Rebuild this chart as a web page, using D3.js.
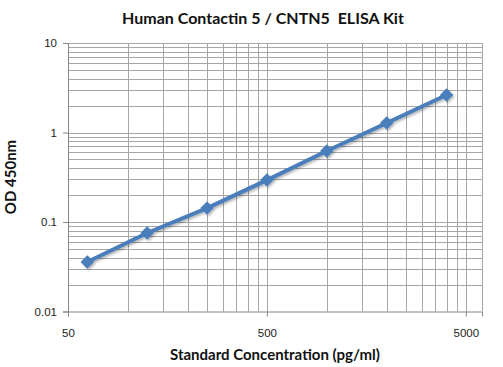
<!DOCTYPE html>
<html>
<head>
<meta charset="utf-8">
<script src="https://cdn.jsdelivr.net/npm/d3@7"></script>
<style>
  body { margin: 0; background: #fff; }
  text { font-family: "Liberation Sans", Arial, sans-serif; }
</style>
</head>
<body>
<div id="chart"></div>
<script>
// data
const concentrations = [62.5, 125, 250, 500, 1000, 2000, 4000];
const odValues = [0.0357, 0.0754, 0.143, 0.294, 0.621, 1.277, 2.62];
const xTicks = [50, 500, 5000];
const yTicks = [0.01, 0.1, 1, 10];

const width = 503, height = 367;
const margin = {top: 43, right: 21, bottom: 55.5, left: 68};
const innerW = width - margin.left - margin.right;
const innerH = height - margin.top - margin.bottom;

const svg = d3.select("#chart")
    .append("svg")
    .attr("width", width)
    .attr("height", height);

const g = svg.append("g")
    .attr("transform", `translate(${margin.left}, ${margin.top})`);

const x = d3.scaleLog().domain([50, 6030]).range([0, innerW]);
const y = d3.scaleLog().domain([0.01, 10]).range([innerH, 0]);

// minor gridlines: k * major for k = 2..9
let xGrid = [];
[50, 500].forEach(m => { for (let k = 2; k <= 10; k++) xGrid.push(m * k); });
let yGrid = [];
[0.01, 0.1, 1].forEach(m => { for (let k = 2; k <= 10; k++) yGrid.push(m * k); });

g.selectAll(".vgrid").data(xGrid).enter()
    .append("line")
    .attr("x1", d => Math.round(x(d)) + 0.5)
    .attr("x2", d => Math.round(x(d)) + 0.5)
    .attr("y1", 0).attr("y2", innerH)
    .attr("stroke", "#a6a6a6").attr("stroke-width", 1);

g.selectAll(".hgrid").data(yGrid).enter()
    .append("line")
    .attr("y1", d => Math.round(y(d)) + 0.5)
    .attr("y2", d => Math.round(y(d)) + 0.5)
    .attr("x1", 0).attr("x2", innerW)
    .attr("stroke", "#a6a6a6").attr("stroke-width", 1);

// right border
g.append("line")
    .attr("x1", innerW + 0.5).attr("x2", innerW + 0.5)
    .attr("y1", 0).attr("y2", innerH)
    .attr("stroke", "#a6a6a6");

// axes
const xAxis = g.append("g")
    .attr("transform", `translate(0, ${innerH})`)
    .call(d3.axisBottom(x).tickValues(xTicks).tickFormat(d3.format("d")).tickSize(5).tickPadding(12));
const yAxis = g.append("g")
    .call(d3.axisLeft(y).tickValues(yTicks).tickFormat(d => d >= 1 ? d3.format("d")(d) : d3.format(".2~f")(d)).tickSize(5).tickPadding(6));

[xAxis, yAxis].forEach(a => {
    a.select(".domain").attr("stroke", "#868686");
    a.selectAll(".tick line").attr("stroke", "#868686");
    a.selectAll(".tick text")
        .attr("fill", "#222")
        .style("font-size", "11.5px")
        .style("font-family", "'Liberation Sans', Arial, sans-serif");
});

// shadow filter for the series
const defs = svg.append("defs");
const filt = defs.append("filter").attr("id", "shadow")
    .attr("x", "-20%").attr("y", "-20%").attr("width", "140%").attr("height", "140%");
filt.append("feDropShadow")
    .attr("dx", 1.5).attr("dy", 1.5).attr("stdDeviation", 1.2)
    .attr("flood-color", "#000").attr("flood-opacity", 0.3);

const points = concentrations.map((c, i) => ({c: c, od: odValues[i]}));

const line = d3.line()
    .x(d => x(d.c))
    .y(d => y(d.od));

const series = g.append("g").attr("filter", "url(#shadow)");

series.append("path")
    .datum(points)
    .attr("d", line)
    .attr("fill", "none")
    .attr("stroke", "#4a7ebb")
    .attr("stroke-width", 4)
    .attr("stroke-linejoin", "round");

series.selectAll(".pt").data(points).enter()
    .append("path")
    .attr("transform", d => `translate(${x(d.c)}, ${y(d.od)})`)
    .attr("d", d3.symbol().type(d3.symbolDiamond2).size(115))
    .attr("fill", "#4a7ebb");

// titles
svg.append("text")
    .attr("x", 263).attr("y", 24)
    .attr("text-anchor", "middle")
    .style("font-family", "Lato, 'Open Sans', sans-serif")
    .style("font-weight", "bold")
    .style("font-size", "16px")
    .attr("fill", "#111")
    .style("white-space", "pre")
    .text("Human Contactin 5 / CNTN5  ELISA Kit");

svg.append("text")
    .attr("x", 275).attr("y", 360)
    .attr("text-anchor", "middle")
    .style("font-family", "Lato, 'Open Sans', sans-serif")
    .style("font-weight", "bold")
    .style("font-size", "15px")
    .attr("fill", "#111")
    .text("Standard Concentration (pg/ml)");

svg.append("text")
    .attr("transform", `translate(16, 177) rotate(-90)`)
    .attr("text-anchor", "middle")
    .style("font-family", "Lato, 'Open Sans', sans-serif")
    .style("font-weight", "bold")
    .style("font-size", "15px")
    .attr("fill", "#111")
    .text("OD 450nm");
</script>
</body>
</html>
